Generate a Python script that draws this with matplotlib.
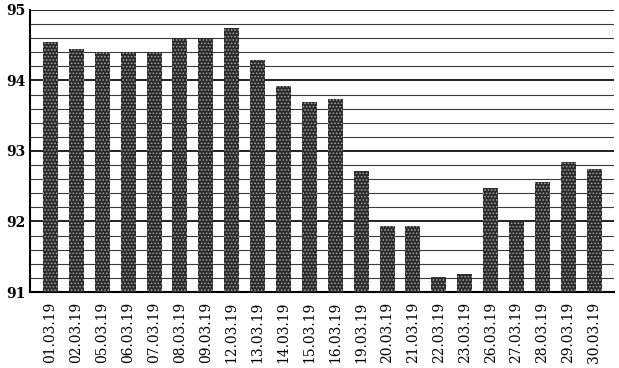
import matplotlib
matplotlib.use('Agg')
from matplotlib import pyplot as plt
from matplotlib.ticker import MultipleLocator

# даты и значения
dates = ['01.03.19', '02.03.19', '05.03.19', '06.03.19', '07.03.19', '08.03.19',
         '09.03.19', '12.03.19', '13.03.19', '14.03.19', '15.03.19', '16.03.19',
         '19.03.19', '20.03.19', '21.03.19', '22.03.19', '23.03.19', '26.03.19',
         '27.03.19', '28.03.19', '29.03.19', '30.03.19']
values = [94.55, 94.45, 94.40, 94.40, 94.40, 94.60,
          94.60, 94.74, 94.29, 93.92, 93.70, 93.74,
          92.72, 91.94, 91.94, 91.21, 91.25, 92.47,
          92.00, 92.56, 92.84, 92.74]
y_ticks = [91, 92, 93, 94, 95]

plt.rcParams['hatch.linewidth'] = 0.7

fig = plt.figure(figsize=(6.19, 3.68), dpi=100)
ax = fig.add_axes([0.0485, 0.2065, 0.9435, 0.7665])

x = list(range(len(dates)))
ax.bar(x, [v - 91 for v in values], bottom=91, width=0.58,
       color='#2a2a2a', edgecolor='#a8a8a8', hatch='.....', linewidth=0, zorder=3)

ax.set_ylim(91, 95)
ax.set_xlim(-0.79, len(dates) - 1 + 0.77)
ax.set_yticks(y_ticks)
ax.yaxis.set_minor_locator(MultipleLocator(0.2))
ax.grid(axis='y', which='minor', color='#3a3a3a', linewidth=0.8, zorder=0)
ax.grid(axis='y', which='major', color='#111111', linewidth=1.3, zorder=0)

ax.set_xticks(x)
ax.set_xticklabels(dates, rotation=90, fontsize=10, family='DejaVu Serif')
for lbl in ax.get_yticklabels():
    lbl.set_family('DejaVu Serif')
    lbl.set_fontweight('bold')
    lbl.set_fontsize(10)

ax.tick_params(axis='x', length=0, pad=7)
ax.tick_params(axis='y', which='both', length=0, pad=3)

for s in ['top', 'right']:
    ax.spines[s].set_visible(False)
ax.spines['left'].set_linewidth(1.5)
ax.spines['bottom'].set_linewidth(1.5)

fig.savefig('out.png', dpi=100)
